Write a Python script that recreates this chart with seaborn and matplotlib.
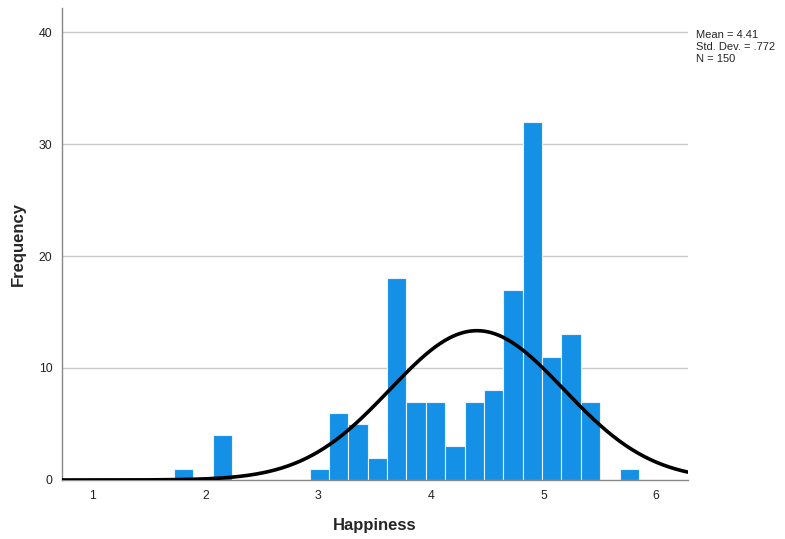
import numpy as np
import pandas as pd
import matplotlib
matplotlib.use("Agg")
import matplotlib.pyplot as plt
import seaborn as sns

# Histogram data
bin_start = 1.72
bin_width = 0.172
counts = [1, 0, 4, 0, 0, 0, 0, 1, 6, 5, 2, 18, 7, 7, 3, 7, 8, 17, 32, 11, 13, 7, 0, 1]
mean_val = 4.41
std_val = 0.772
n_val = 150
x_ticks = [1, 2, 3, 4, 5, 6]
y_ticks = [0, 10, 20, 30, 40]

edges = bin_start + bin_width * np.arange(len(counts) + 1)
centers = (edges[:-1] + edges[1:]) / 2
df = pd.DataFrame({"Happiness": centers, "count": counts})

sns.set_style("white")
plt.rcParams['font.family'] = ['Liberation Sans', 'DejaVu Sans']

fig = plt.figure(figsize=(7.85, 5.39), dpi=100)
ax = fig.add_axes([0.079, 0.1095, 0.7974, 0.8755])

ax.set_axisbelow(True)
for yv in y_ticks[1:]:
    ax.axhline(yv, color="#c8c8c8", lw=1.0, zorder=0)

sns.histplot(data=df, x="Happiness", weights="count",
             bins=[float(e) for e in edges],
             color="#1490E6", alpha=1.0, edgecolor="#e8f2fc", linewidth=0.8,
             ax=ax, zorder=2)

xmin, xmax = 0.725, 6.284
xs = np.linspace(xmin, xmax, 400)
ys = n_val * bin_width * np.exp(-0.5 * ((xs - mean_val) / std_val) ** 2) / (std_val * np.sqrt(2 * np.pi))
sns.lineplot(x=xs, y=ys, color="black", lw=2.6, ax=ax, zorder=3)

ax.set_xlim(xmin, xmax)
ax.set_ylim(0, 42.14)
ax.set_xticks(x_ticks)
ax.set_yticks(y_ticks)
ax.tick_params(axis="both", length=0, labelsize=8.8, colors="#222222", pad=7)
for s in ["top", "right"]:
    ax.spines[s].set_visible(False)
for s in ["left", "bottom"]:
    ax.spines[s].set_color("#888888")
    ax.spines[s].set_linewidth(1.0)

ax.set_xlabel("Happiness", fontsize=12, fontweight="bold", labelpad=12)
ax.set_ylabel("Frequency", fontsize=12, fontweight="bold", labelpad=9)

fig.text(0.886, 0.944, "Mean = 4.41\nStd. Dev. = .772\nN = 150",
         fontsize=8, va="top", ha="left", linespacing=1.25)

fig.savefig("out.png", dpi=100)
